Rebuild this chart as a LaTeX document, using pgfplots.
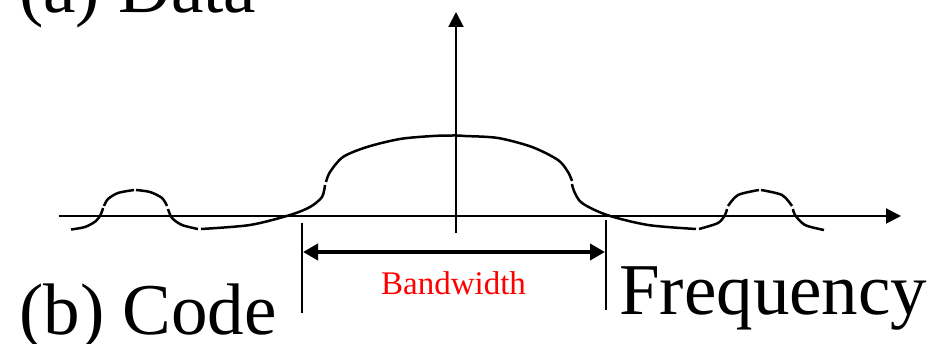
\documentclass[border=0pt]{standalone}
\usepackage{fontspec}
\setmainfont{Liberation Serif}
\usepackage{pgfplots}
\pgfplotsset{compat=1.18}
\usetikzlibrary{arrows.meta}

\begin{document}
\begin{tikzpicture}
\begin{axis}[
  scale only axis,
  width=842pt, height=221pt,
  xmin=-397, xmax=445,
  ymin=-17, ymax=204,
  axis lines=middle,
  axis line style={line width=2pt, -{Triangle[length=15pt,width=15pt]}},
  xtick=\empty, ytick=\empty,
  clip=false,
  cycle list={{black, solid, no marks}},
  every axis plot/.append style={smooth, line width=2.5pt},
]
% spectrum, drawn piece by piece like the original sketch
\addplot coordinates {(-385,-13.5) (-371,-11) (-360,-5) (-355,2) (-353,8)};
\addplot coordinates {(-352,10) (-348,17) (-338,23) (-322,26)};
\addplot coordinates {(-320,26) (-306,24) (-294,18) (-289,10)};
\addplot coordinates {(-288,7) (-284,-2) (-274,-9) (-258,-13)};
\addplot coordinates {(-255,-13) (-206,-9) (-166,1) (-146,9) (-134,19) (-131,31)};
\addplot coordinates {(-130,34) (-126,44) (-113,59) (-89,69) (-56,77) (-23,80) (0,80.5) (9,80) (42,78) (76,69) (102,56) (112,44) (116,35)};
\addplot coordinates {(116,32) (118,25) (126,13) (151,1) (192,-9) (240,-13)};
\addplot coordinates {(243,-13) (262,-7) (269,1) (271,7)};
\addplot coordinates {(272,10) (282,21) (303,26)};
\addplot coordinates {(305,26) (326,21) (336,10)};
\addplot coordinates {(337,7) (339,1) (349,-9) (368,-14)};
% bandwidth markers
\addplot[black, sharp plot, line width=1.3pt] coordinates {(-154,-7) (-154,-97)};
\addplot[black, sharp plot, line width=1.3pt] coordinates {(150,-4) (150,-94)};
\addplot[black, sharp plot, line width=4pt,
  {Triangle[length=15pt,width=16pt]}-{Triangle[length=15pt,width=16pt]}]
  coordinates {(-153,-36) (149,-36)};

\node[anchor=base west, inner sep=0pt, font=\fontsize{73}{80}\selectfont] at (axis cs:-437,203) {(a) Data};
\node[anchor=base west, inner sep=0pt, font=\fontsize{73}{80}\selectfont] at (axis cs:-437,-119) {(b) Code};
\node[anchor=base west, inner sep=0pt, font=\fontsize{73}{80}\selectfont] at (axis cs:163,-99) {Frequency};
\node[anchor=base, inner sep=0pt, text=red, font=\fontsize{33}{36}\selectfont] at (axis cs:-2.5,-79) {Bandwidth};

\coordinate (bl) at (axis cs:-456,-128);
\coordinate (tr) at (axis cs:479,216);
\end{axis}
\pgfresetboundingbox
\path[use as bounding box] (bl) rectangle (tr);
\end{tikzpicture}
\end{document}
